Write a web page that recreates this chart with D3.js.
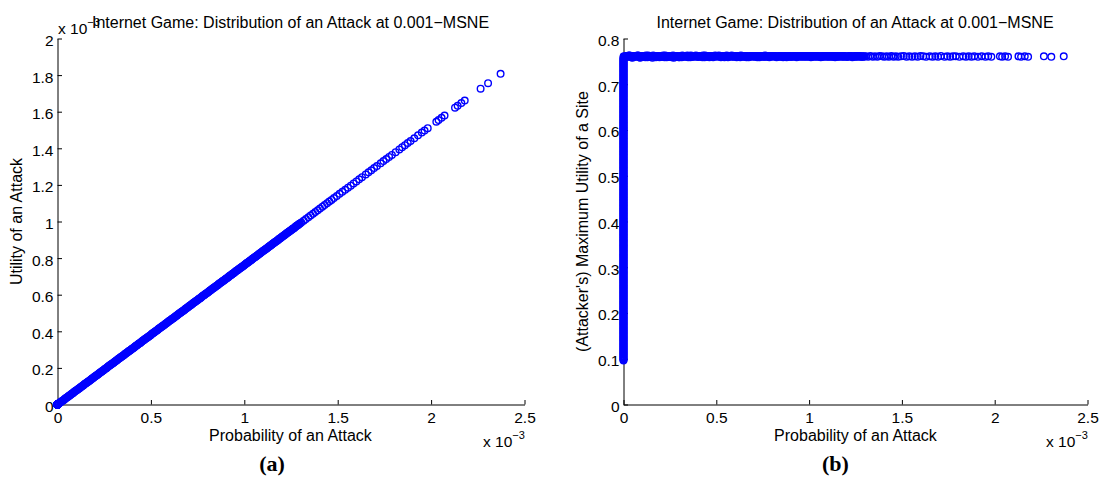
<!DOCTYPE html>
<html>
<head>
<meta charset="utf-8">
<script src="https://cdn.jsdelivr.net/npm/d3@7"></script>
<style>
  html, body { margin: 0; padding: 0; background: #fff; }
  svg text { font-family: "Liberation Sans", Arial, Helvetica, sans-serif; }
</style>
</head>
<body>
<svg id="chart" width="1099" height="480"></svg>
<script>
// ---------------- data (probabilities and attack utilities in units of 10^-3) ----------------
const titleText = "Internet Game: Distribution of an Attack at 0.001\u2212MSNE";
const xLabel = "Probability of an Attack";
const yLabelA = "Utility of an Attack";
const yLabelB = "(Attacker's) Maximum Utility of a Site";
const panelLabels = ["(a)", "(b)"];

const xTicks = [0, 0.5, 1, 1.5, 2, 2.5];
const xTickLabels = ["0", "0.5", "1", "1.5", "2", "2.5"];
const yTicksA = [0, 0.2, 0.4, 0.6, 0.8, 1, 1.2, 1.4, 1.6, 1.8, 2];
const yTickLabelsA = ["0", "0.2", "0.4", "0.6", "0.8", "1", "1.2", "1.4", "1.6", "1.8", "2"];
const yTicksB = [0, 0.1, 0.2, 0.3, 0.4, 0.5, 0.6, 0.7, 0.8];
const yTickLabelsB = ["0", "0.1", "0.2", "0.3", "0.4", "0.5", "0.6", "0.7", "0.8"];

// probability of attack for attacked sites (x 10^-3)
const attackProb = [
  0.002,0.010,0.017,0.025,0.033,0.040,0.048,0.056,0.063,0.071,0.079,0.086,0.094,
  0.102,0.110,0.117,0.125,0.133,0.140,0.148,0.156,0.163,0.171,0.179,0.186,0.194,
  0.202,0.210,0.217,0.225,0.233,0.240,0.248,0.256,0.263,0.271,0.279,0.286,0.294,
  0.302,0.310,0.317,0.325,0.333,0.340,0.348,0.356,0.363,0.371,0.379,0.386,0.394,
  0.402,0.410,0.417,0.425,0.433,0.440,0.448,0.456,0.463,0.471,0.479,0.486,0.494,
  0.502,0.510,0.517,0.525,0.533,0.540,0.548,0.556,0.563,0.571,0.579,0.586,0.594,
  0.602,0.610,0.617,0.625,0.633,0.640,0.648,0.656,0.663,0.671,0.679,0.686,0.694,
  0.702,0.710,0.717,0.725,0.733,0.740,0.748,0.756,0.763,0.771,0.779,0.786,0.794,
  0.802,0.810,0.817,0.825,0.833,0.840,0.848,0.856,0.863,0.871,0.879,0.886,0.894,
  0.902,0.910,0.917,0.925,0.933,0.940,0.948,0.956,0.963,0.971,0.979,0.986,0.994,
  1.002,1.010,1.017,1.025,1.033,1.040,1.048,1.056,1.063,1.071,1.079,1.086,1.094,
  1.102,1.110,1.117,1.125,1.133,1.140,1.148,1.156,1.163,1.171,1.179,1.186,1.194,
  1.202,1.210,1.217,1.225,1.233,1.240,1.248,1.256,1.263,1.271,1.279,1.286,1.294,
  0.006,0.014,0.021,0.029,0.037,0.044,0.052,0.060,0.067,0.075,0.083,0.090,0.098,
  0.106,0.114,0.121,0.129,0.137,0.144,0.152,0.160,0.167,0.175,0.183,0.190,0.198,
  0.206,0.214,0.221,0.229,0.237,0.244,0.252,0.260,0.267,0.275,0.283,0.290,0.298,
  0.306,0.314,0.321,0.329,0.337,0.344,0.352,0.360,0.367,0.375,0.383,0.390,0.398,
  0.406,0.414,0.421,0.429,0.437,0.444,0.452,0.460,0.467,0.475,0.483,0.490,0.498,
  0.506,0.514,0.521,0.529,0.537,0.544,0.552,0.560,0.567,0.575,0.583,0.590,0.598,
  0.606,0.614,0.621,0.629,0.637,0.644,0.652,0.660,0.667,0.675,0.683,0.690,0.698,
  0.706,0.714,0.721,0.729,0.737,0.744,0.752,0.760,0.767,0.775,0.783,0.790,0.798,
  0.806,0.814,0.821,0.829,0.837,0.844,0.852,0.860,0.867,0.875,0.883,0.890,0.898,
  0.906,0.914,0.921,0.929,0.937,0.944,0.952,0.960,0.967,0.975,0.983,0.990,0.998,
  1.006,1.014,1.021,1.029,1.037,1.044,1.052,1.060,1.067,1.075,1.083,1.090,1.098,
  1.106,1.114,1.121,1.129,1.137,1.144,1.152,1.160,1.167,1.175,1.183,1.190,1.198,
  1.206,1.214,1.221,1.229,1.237,1.244,1.252,1.260,1.267,1.275,1.283,1.290,1.298,
  1.305,1.318,1.330,1.343,1.355,1.368,1.380,1.393,1.405,1.418,1.430,1.443,1.455,
  1.467,1.480,1.495,1.510,1.525,1.540,1.555,1.570,1.585,1.600,1.615,1.630,1.650,
  1.665,1.680,1.695,1.710,1.730,1.745,1.760,1.775,1.790,1.810,1.830,1.845,1.860,
  1.875,1.890,1.910,1.930,1.950,1.965,1.982,2.028,2.040,2.056,2.072,2.128,2.142,
  2.162,2.180,2.265,2.305,2.372
];

// utility of an attack for attacked sites (x 10^-3)
const attackUtility = [
  0.002,0.008,0.013,0.019,0.025,0.031,0.037,0.043,0.048,0.054,0.060,0.066,0.072,
  0.078,0.084,0.089,0.095,0.101,0.107,0.113,0.119,0.124,0.130,0.136,0.142,0.148,
  0.154,0.160,0.165,0.172,0.178,0.183,0.189,0.195,0.200,0.207,0.213,0.218,0.224,
  0.230,0.236,0.242,0.248,0.254,0.259,0.265,0.271,0.277,0.283,0.289,0.294,0.300,
  0.306,0.312,0.318,0.324,0.330,0.335,0.341,0.348,0.353,0.359,0.365,0.370,0.376,
  0.383,0.389,0.394,0.400,0.406,0.412,0.418,0.424,0.429,0.435,0.441,0.447,0.453,
  0.459,0.465,0.470,0.476,0.482,0.488,0.494,0.500,0.505,0.511,0.517,0.523,0.529,
  0.535,0.541,0.546,0.553,0.559,0.564,0.570,0.576,0.581,0.588,0.594,0.599,0.605,
  0.611,0.617,0.623,0.629,0.635,0.640,0.646,0.652,0.658,0.664,0.670,0.675,0.681,
  0.687,0.693,0.699,0.705,0.711,0.716,0.722,0.729,0.734,0.740,0.746,0.751,0.757,
  0.764,0.770,0.775,0.781,0.787,0.793,0.799,0.805,0.810,0.816,0.822,0.828,0.834,
  0.840,0.846,0.851,0.857,0.863,0.869,0.875,0.881,0.886,0.892,0.898,0.904,0.910,
  0.916,0.922,0.927,0.934,0.940,0.945,0.951,0.957,0.962,0.969,0.975,0.980,0.986,
  0.005,0.011,0.016,0.022,0.028,0.034,0.040,0.046,0.051,0.057,0.063,0.069,0.075,
  0.081,0.087,0.092,0.098,0.104,0.110,0.116,0.122,0.127,0.133,0.139,0.145,0.151,
  0.157,0.163,0.168,0.175,0.181,0.186,0.192,0.198,0.203,0.210,0.216,0.221,0.227,
  0.233,0.239,0.245,0.251,0.257,0.262,0.268,0.274,0.280,0.286,0.292,0.297,0.303,
  0.309,0.315,0.321,0.327,0.333,0.338,0.344,0.351,0.356,0.362,0.368,0.373,0.379,
  0.386,0.392,0.397,0.403,0.409,0.415,0.421,0.427,0.432,0.438,0.444,0.450,0.456,
  0.462,0.468,0.473,0.479,0.485,0.491,0.497,0.503,0.508,0.514,0.520,0.526,0.532,
  0.538,0.544,0.549,0.556,0.562,0.567,0.573,0.579,0.584,0.591,0.597,0.602,0.608,
  0.614,0.620,0.626,0.632,0.638,0.643,0.649,0.655,0.661,0.667,0.673,0.678,0.684,
  0.690,0.696,0.702,0.708,0.714,0.719,0.725,0.732,0.737,0.743,0.749,0.754,0.760,
  0.767,0.773,0.778,0.784,0.790,0.796,0.802,0.808,0.813,0.819,0.825,0.831,0.837,
  0.843,0.849,0.854,0.860,0.866,0.872,0.878,0.884,0.889,0.895,0.901,0.907,0.913,
  0.919,0.925,0.930,0.937,0.943,0.948,0.954,0.960,0.965,0.972,0.978,0.983,0.989,
  0.994,1.004,1.013,1.023,1.033,1.042,1.052,1.061,1.071,1.081,1.090,1.100,1.109,
  1.118,1.128,1.139,1.151,1.162,1.173,1.185,1.196,1.208,1.219,1.231,1.242,1.257,
  1.269,1.280,1.292,1.303,1.318,1.330,1.341,1.353,1.364,1.379,1.394,1.406,1.417,
  1.429,1.440,1.455,1.471,1.486,1.497,1.510,1.545,1.554,1.567,1.579,1.622,1.632,
  1.647,1.661,1.726,1.756,1.807
];

// maximum utility of the site for attacked sites
const siteUtilityAttacked = [
  0.761,0.759,0.762,0.760,0.763,0.761,0.758,0.762,0.760,0.761,0.763,0.759,0.761,
  0.760,0.762,0.759,0.761,0.763,0.760,0.762,0.758,0.761,0.760,0.762,0.761,0.759,
  0.762,0.760,0.761,0.763,0.759,0.761,0.760,0.762,0.761,0.758,0.762,0.760,0.761,
  0.759,0.761,0.763,0.760,0.761,0.762,0.759,0.761,0.763,0.760,0.761,0.762,0.760,
  0.761,0.760,0.762,0.759,0.761,0.763,0.760,0.761,0.759,0.762,0.760,0.761,0.763,
  0.760,0.762,0.761,0.759,0.762,0.760,0.761,0.763,0.759,0.761,0.762,0.760,0.761,
  0.762,0.759,0.761,0.760,0.763,0.761,0.760,0.762,0.759,0.761,0.760,0.762,0.761,
  0.761,0.760,0.762,0.761,0.759,0.762,0.761,0.760,0.763,0.760,0.761,0.759,0.762,
  0.760,0.762,0.761,0.759,0.761,0.760,0.762,0.761,0.760,0.762,0.759,0.761,0.760,
  0.762,0.760,0.761,0.762,0.759,0.761,0.760,0.762,0.761,0.760,0.761,0.762,0.760,
  0.761,0.759,0.762,0.760,0.761,0.762,0.760,0.761,0.759,0.762,0.760,0.761,0.762,
  0.760,0.762,0.760,0.761,0.762,0.759,0.761,0.760,0.762,0.761,0.760,0.762,0.761,
  0.761,0.760,0.762,0.761,0.759,0.761,0.762,0.760,0.761,0.762,0.760,0.761,0.760,
  0.759,0.762,0.760,0.763,0.761,0.759,0.762,0.760,0.761,0.763,0.760,0.758,0.762,
  0.762,0.760,0.763,0.759,0.761,0.762,0.760,0.763,0.761,0.759,0.762,0.760,0.761,
  0.760,0.763,0.759,0.761,0.762,0.760,0.762,0.759,0.763,0.761,0.760,0.762,0.759,
  0.762,0.759,0.761,0.762,0.760,0.763,0.761,0.759,0.762,0.760,0.761,0.763,0.760,
  0.760,0.762,0.761,0.763,0.759,0.761,0.762,0.760,0.761,0.762,0.759,0.761,0.762,
  0.761,0.763,0.760,0.761,0.762,0.759,0.761,0.762,0.760,0.761,0.763,0.760,0.762,
  0.760,0.761,0.762,0.759,0.762,0.761,0.760,0.762,0.761,0.759,0.762,0.761,0.760,
  0.762,0.761,0.759,0.762,0.760,0.761,0.762,0.760,0.761,0.762,0.760,0.761,0.762,
  0.761,0.762,0.760,0.761,0.762,0.760,0.761,0.759,0.762,0.760,0.761,0.762,0.760,
  0.760,0.761,0.762,0.760,0.761,0.762,0.761,0.760,0.762,0.761,0.760,0.761,0.762,
  0.762,0.760,0.761,0.762,0.760,0.761,0.762,0.760,0.761,0.760,0.762,0.761,0.760,
  0.761,0.762,0.760,0.761,0.760,0.762,0.761,0.760,0.761,0.762,0.760,0.761,0.760,
  0.760,0.761,0.762,0.761,0.760,0.761,0.760,0.762,0.761,0.760,0.761,0.760,0.761,
  0.761,0.760,0.762,0.760,0.761,0.760,0.762,0.761,0.760,0.761,0.760,0.762,0.760,
  0.761,0.760,0.761,0.762,0.760,0.761,0.760,0.761,0.760,0.762,0.761,0.760,0.761,
  0.760,0.761,0.760,0.762,0.760,0.761,0.760,0.761,0.761,0.760,0.761,0.760,0.761,
  0.760,0.761,0.760,0.761,0.760,0.761,0.760,0.761,0.760,0.761,0.760,0.761,0.760,
  0.761,0.760,0.761,0.760,0.761
];

// maximum utility of the site for sites that are never attacked (probability 0)
const siteUtilityUnattacked = [
  0.096,0.099,0.103,0.106,0.110,0.113,0.117,0.120,0.124,0.127,
  0.131,0.134,0.138,0.141,0.145,0.148,0.152,0.155,0.159,0.162,
  0.166,0.169,0.173,0.176,0.180,0.183,0.187,0.190,0.194,0.197,
  0.201,0.204,0.208,0.211,0.215,0.218,0.222,0.225,0.229,0.232,
  0.236,0.239,0.243,0.246,0.250,0.253,0.257,0.260,0.264,0.267,
  0.271,0.274,0.278,0.281,0.285,0.288,0.292,0.295,0.299,0.302,
  0.306,0.309,0.313,0.316,0.320,0.323,0.327,0.330,0.334,0.337,
  0.341,0.344,0.348,0.351,0.355,0.358,0.362,0.365,0.369,0.372,
  0.376,0.379,0.383,0.386,0.390,0.393,0.397,0.400,0.404,0.407,
  0.411,0.414,0.418,0.421,0.425,0.428,0.432,0.435,0.439,0.442,
  0.446,0.449,0.453,0.456,0.460,0.463,0.467,0.470,0.474,0.477,
  0.481,0.484,0.488,0.491,0.495,0.498,0.502,0.505,0.509,0.512,
  0.516,0.519,0.523,0.526,0.530,0.533,0.537,0.540,0.544,0.547,
  0.551,0.554,0.558,0.561,0.565,0.568,0.572,0.575,0.579,0.582,
  0.586,0.589,0.593,0.596,0.600,0.603,0.607,0.610,0.614,0.617,
  0.621,0.624,0.628,0.631,0.635,0.638,0.642,0.645,0.649,0.652,
  0.656,0.659,0.663,0.666,0.670,0.673,0.677,0.680,0.684,0.687,
  0.691,0.694,0.698,0.701,0.705,0.708,0.712,0.715,0.719,0.722,
  0.726,0.729,0.733,0.736,0.740,0.743,0.747,0.750,0.754,0.757,
  0.760,
  0.098,0.101,0.105,0.108,0.112,0.115,0.119,0.122,0.126,0.129,
  0.133,0.136,0.140,0.143,0.147,0.150,0.154,0.157,0.161,0.164,
  0.168,0.171,0.175,0.178,0.182,0.185,0.189,0.192,0.196,0.199,
  0.203,0.206,0.210,0.213,0.217,0.220,0.224,0.227,0.231,0.234,
  0.238,0.241,0.245,0.248,0.252,0.255,0.259,0.262,0.266,0.269,
  0.273,0.276,0.280,0.283,0.287,0.290,0.294,0.297,0.301,0.304,
  0.308,0.311,0.315,0.318,0.322,0.325,0.329,0.332,0.336,0.339,
  0.343,0.346,0.350,0.353,0.357,0.360,0.364,0.367,0.371,0.374,
  0.378,0.381,0.385,0.388,0.392,0.395,0.399,0.402,0.406,0.409,
  0.413,0.416,0.420,0.423,0.427,0.430,0.434,0.437,0.441,0.444,
  0.448,0.451,0.455,0.458,0.462,0.465,0.469,0.472,0.476,0.479,
  0.483,0.486,0.490,0.493,0.497,0.500,0.504,0.507,0.511,0.514,
  0.518,0.521,0.525,0.528,0.532,0.535,0.539,0.542,0.546,0.549,
  0.553,0.556,0.560,0.563,0.567,0.570,0.574,0.577,0.581,0.584,
  0.588,0.591,0.595,0.598,0.602,0.605,0.609,0.612,0.616,0.619,
  0.623,0.626,0.630,0.633,0.637,0.640,0.644,0.647,0.651,0.654,
  0.658,0.661,0.665,0.668,0.672,0.675,0.679,0.682,0.686,0.689,
  0.693,0.696,0.700,0.703,0.707,0.710,0.714,0.717,0.721,0.724,
  0.728,0.731,0.735,0.738,0.742,0.745,0.749,0.752,0.756
];
const unattackedProb = 0;
const unattackedUtility = 0;

// ---------------- drawing ----------------
const svg = d3.select("#chart");
svg.append("rect").attr("width", 1099).attr("height", 480).attr("fill", "#fff");

const BLUE = "#0000ff";
const R = 3.3;
const SW = 1.4;
const FONT = 15.5;

function drawAxes(g, x, y, ticksY, labelsY) {
  const ax = d3.axisBottom(x).tickValues(xTicks).tickFormat((d, i) => xTickLabels[i])
    .tickSizeInner(-4.5).tickSizeOuter(0).tickPadding(7.3);
  const gx = g.append("g").attr("transform", `translate(0,${y(0)})`).call(ax);
  const ay = d3.axisLeft(y).tickValues(ticksY).tickFormat((d, i) => labelsY[i])
    .tickSizeInner(-4.5).tickSizeOuter(0).tickPadding(4);
  const gy = g.append("g").attr("transform", `translate(${x(0)},0)`).call(ay);
  [gx, gy].forEach(a => {
    a.attr("font-family", null).attr("font-size", null);
    a.selectAll("path.domain").attr("stroke", "#000").attr("stroke-width", 1);
    a.selectAll(".tick line").attr("stroke", "#000").attr("stroke-width", 1);
    a.selectAll(".tick text").attr("fill", "#000").style("font-size", FONT + "px");
  });
  gy.selectAll(".tick text").attr("dy", "0.45em");
}

function addText(x, y, str, size, anchor) {
  return svg.append("text").attr("x", x).attr("y", y).attr("text-anchor", anchor || "middle")
    .style("font-size", size + "px").attr("fill", "#000").text(str);
}

function addExponent(x, y, supDy) {
  const t = svg.append("text").attr("x", x).attr("y", y).attr("fill", "#000")
    .style("font-size", FONT + "px");
  t.append("tspan").text("x 10");
  t.append("tspan").attr("dy", supDy).style("font-size", "11px").text("\u22123");
}

function dots(g, data, cx, cy) {
  g.append("g").selectAll("circle").data(data).join("circle")
    .attr("cx", cx).attr("cy", cy).attr("r", R)
    .attr("fill", "none").attr("stroke", BLUE).attr("stroke-width", SW);
}

// ---- panel (a)
const xA = d3.scaleLinear().domain([0, 2.5]).range([57.5, 524.5]);
const yA = d3.scaleLinear().domain([0, 2]).range([404.5, 38.5]);
const gA = svg.append("g");
drawAxes(gA, xA, yA, yTicksA, yTickLabelsA);
dots(gA, siteUtilityUnattacked, () => xA(unattackedProb), () => yA(unattackedUtility));
dots(gA, attackProb, d => xA(d), (d, i) => yA(attackUtility[i]));

addText(290.5, 441, xLabel, 16);
svg.append("text").attr("transform", "translate(22,221.5) rotate(-90)").attr("text-anchor", "middle")
  .style("font-size", "16px").attr("fill", "#000").text(yLabelA);
addExponent(483, 447, -8);
addExponent(58, 33.5, -8);
addText(290.5, 27.5, titleText, 16);
svg.append("text").attr("x", 272).attr("y", 471).attr("text-anchor", "middle")
  .style("font-family", "'Liberation Serif', 'DejaVu Serif', serif").style("font-weight", "bold")
  .style("font-size", "22px").attr("fill", "#000").text(panelLabels[0]);

// ---- panel (b)
const xB = d3.scaleLinear().domain([0, 2.5]).range([623.5, 1087.5]);
const yB = d3.scaleLinear().domain([0, 0.8]).range([404.5, 38.5]);
const gB = svg.append("g");
drawAxes(gB, xB, yB, yTicksB, yTickLabelsB);
dots(gB, siteUtilityUnattacked, () => xB(unattackedProb), d => yB(d));
dots(gB, attackProb, d => xB(d), (d, i) => yB(siteUtilityAttacked[i]));

addText(855.5, 441, xLabel, 16);
svg.append("text").attr("transform", "translate(587.5,221.5) rotate(-90)").attr("text-anchor", "middle")
  .style("font-size", "16px").attr("fill", "#000").text(yLabelB);
addExponent(1046, 447, -8);
addText(855, 28, titleText, 16);
svg.append("text").attr("x", 835.5).attr("y", 471).attr("text-anchor", "middle")
  .style("font-family", "'Liberation Serif', 'DejaVu Serif', serif").style("font-weight", "bold")
  .style("font-size", "22px").attr("fill", "#000").text(panelLabels[1]);
</script>
</body>
</html>
